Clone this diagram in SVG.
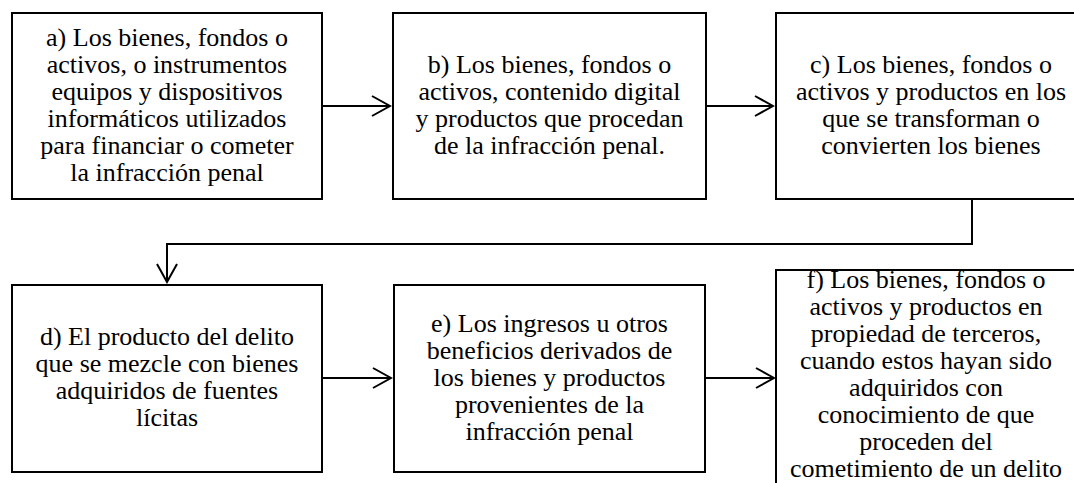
<svg xmlns="http://www.w3.org/2000/svg" width="1074" height="483" viewBox="0 0 1074 483">
<style>
.box{fill:#fff;stroke:#000;stroke-width:2}
.t{font-family:"Liberation Serif","Times New Roman",serif;font-size:26px;fill:#000;text-anchor:middle}
.c{fill:none;stroke:#000;stroke-width:2}
</style>
<defs>
<marker id="arr" viewBox="0 0 22 22" markerWidth="22" markerHeight="22" refX="20" refY="11" orient="auto" markerUnits="userSpaceOnUse">
<path d="M2,1 L20,11 L2,21" fill="none" stroke="#000" stroke-width="2"/>
</marker>
</defs>
<rect width="1074" height="483" fill="#fff"/>
<g id="connectors">
<line class="c" x1="322" y1="106" x2="390" y2="106" marker-end="url(#arr)"/>
<line class="c" x1="706" y1="106" x2="773" y2="106" marker-end="url(#arr)"/>
<polyline class="c" points="972,199 972,244 167,244 167,282" marker-end="url(#arr)"/>
<line class="c" x1="322" y1="378" x2="391" y2="378" marker-end="url(#arr)"/>
<line class="c" x1="705" y1="378" x2="774" y2="378" marker-end="url(#arr)"/>
</g>
<g id="node-a">
<rect class="box" x="12" y="13" width="310" height="186"/>
<text class="t"><tspan x="167" y="45.7">a) Los bienes, fondos o</tspan><tspan x="167" y="72.7">activos, o instrumentos</tspan><tspan x="167" y="99.7">equipos y dispositivos</tspan><tspan x="167" y="126.7">informáticos utilizados</tspan><tspan x="167" y="153.7">para financiar o cometer</tspan><tspan x="167" y="180.7">la infracción penal</tspan></text>
</g>
<g id="node-b">
<rect class="box" x="393" y="13" width="313" height="186"/>
<text class="t"><tspan x="549.5" y="72.7">b) Los bienes, fondos o</tspan><tspan x="549.5" y="99.7">activos, contenido digital</tspan><tspan x="549.5" y="126.7">y productos que procedan</tspan><tspan x="549.5" y="153.7">de la infracción penal.</tspan></text>
</g>
<g id="node-c">
<rect class="box" x="776" y="13" width="310" height="186"/>
<text class="t"><tspan x="931" y="72.7">c) Los bienes, fondos o</tspan><tspan x="931" y="99.7">activos y productos en los</tspan><tspan x="931" y="126.7">que se transforman o</tspan><tspan x="931" y="153.7">convierten los bienes</tspan></text>
</g>
<g id="node-d">
<rect class="box" x="12" y="285" width="310" height="187"/>
<text class="t"><tspan x="167" y="345.2">d) El producto del delito</tspan><tspan x="167" y="372.2">que se mezcle con bienes</tspan><tspan x="167" y="399.2">adquiridos de fuentes</tspan><tspan x="167" y="426.2">lícitas</tspan></text>
</g>
<g id="node-e">
<rect class="box" x="394" y="285" width="311" height="187"/>
<text class="t"><tspan x="549.5" y="331.7">e) Los ingresos u otros</tspan><tspan x="549.5" y="358.7">beneficios derivados de</tspan><tspan x="549.5" y="385.7">los bienes y productos</tspan><tspan x="549.5" y="412.7">provenientes de la</tspan><tspan x="549.5" y="439.7">infracción penal</tspan></text>
</g>
<g id="node-f">
<rect class="box" x="776" y="270" width="300" height="230"/>
<text class="t"><tspan x="926" y="288">f) Los bienes, fondos o</tspan><tspan x="926" y="315">activos y productos en</tspan><tspan x="926" y="342">propiedad de terceros,</tspan><tspan x="926" y="369">cuando estos hayan sido</tspan><tspan x="926" y="396">adquiridos con</tspan><tspan x="926" y="423">conocimiento de que</tspan><tspan x="926" y="450">proceden del</tspan><tspan x="926" y="477">cometimiento de un delito</tspan></text>
</g>
</svg>
